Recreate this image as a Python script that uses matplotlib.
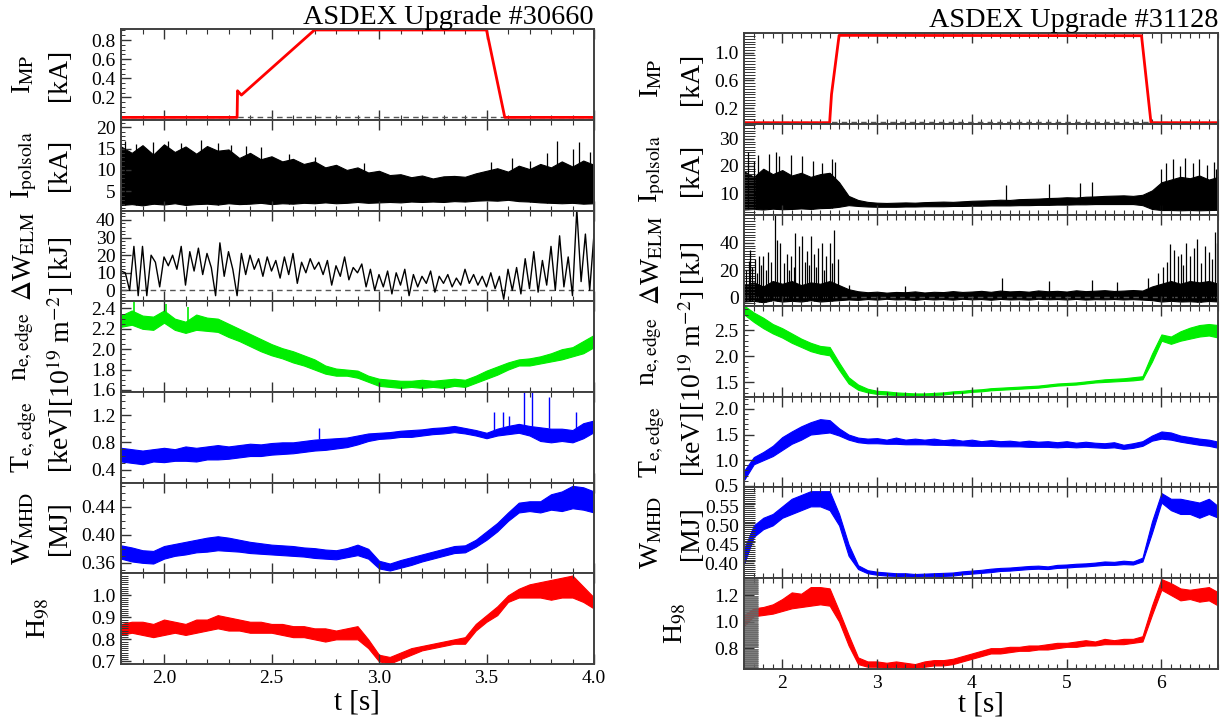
import numpy as np
import matplotlib.pyplot as plt
from matplotlib.ticker import MultipleLocator, FixedLocator, FormatStrFormatter

plt.rcParams['font.family'] = 'Liberation Serif'
plt.rcParams['mathtext.fontset'] = 'stix'

#%% data, shot 30660 (left)
tL = [1.80, 1.85, 1.90, 1.95, 2.00, 2.05, 2.10, 2.15, 2.20, 2.25, 2.30, 2.35, 2.40, 2.45, 2.50,
      2.55, 2.60, 2.65, 2.70, 2.75, 2.80, 2.85, 2.90, 2.95, 3.00, 3.05, 3.10, 3.15, 3.20, 3.25,
      3.30, 3.35, 3.40, 3.45, 3.50, 3.55, 3.60, 3.65, 3.70, 3.75, 3.80, 3.85, 3.90, 3.95, 4.00]

imp_L_t = [1.80, 2.34, 2.342, 2.35, 2.36, 2.70, 3.50, 3.585, 4.00]
imp_L = [-0.008, -0.008, 0.27, 0.25, 0.225, 0.905, 0.905, -0.008, -0.008]

pol_L_lo = [1.8, 2.0, 1.7, 2.1, 1.9, 2.2, 1.8, 2.0, 2.1, 1.9, 2.2, 2.0, 2.1, 2.3, 2.0,
            2.2, 2.1, 2.3, 2.2, 2.4, 2.2, 2.3, 2.5, 2.3, 2.4, 2.5, 2.4, 2.6, 2.5, 2.6,
            2.5, 2.7, 2.6, 2.8, 2.9, 2.8, 3.0, 2.7, 2.6, 2.4, 2.3, 2.2, 2.3, 2.1, 2.2]
pol_L_hi = [15.5, 14.0, 15.8, 13.6, 16.0, 14.2, 15.5, 13.8, 15.6, 14.5, 14.8, 12.8, 14.0, 12.5, 13.2,
            12.0, 12.6, 11.4, 12.0, 10.6, 11.2, 10.0, 10.6, 9.4, 9.8, 8.8, 9.0, 8.3, 8.7, 8.0,
            8.5, 8.6, 8.4, 9.2, 9.8, 10.4, 9.6, 11.0, 10.2, 11.4, 10.6, 12.0, 10.8, 12.2, 11.2]
pol_L_spk_t = [1.82, 1.87, 1.95, 2.02, 2.08, 2.17, 2.25, 2.31, 2.38, 2.45, 2.58, 2.70, 2.93,
               3.52, 3.62, 3.70, 3.78, 3.83, 3.90, 3.93, 3.98]
pol_L_spk = [16.8, 16.0, 16.5, 16.8, 16.2, 17.0, 16.3, 15.8, 15.5, 15.3, 13.8, 13.0, 11.6,
             11.8, 12.8, 12.2, 14.0, 16.8, 15.0, 16.5, 14.2]

dw_L_t = [1.80, 1.82, 1.84, 1.86, 1.88, 1.90, 1.92, 1.94, 1.96, 1.98, 2.00, 2.02, 2.04, 2.06,
          2.08, 2.10, 2.12, 2.14, 2.16, 2.18, 2.20, 2.22, 2.24, 2.26, 2.28, 2.30, 2.32, 2.34,
          2.36, 2.38, 2.40, 2.42, 2.44, 2.46, 2.48, 2.50, 2.52, 2.54, 2.56, 2.58, 2.60, 2.62,
          2.64, 2.66, 2.68, 2.70, 2.72, 2.74, 2.76, 2.78, 2.80, 2.82, 2.84, 2.86, 2.88, 2.90,
          2.92, 2.94, 2.96, 2.98, 3.00, 3.02, 3.04, 3.06, 3.08, 3.10, 3.12, 3.14, 3.16, 3.18,
          3.20, 3.22, 3.24, 3.26, 3.28, 3.30, 3.32, 3.34, 3.36, 3.38, 3.40, 3.42, 3.44, 3.46,
          3.48, 3.50, 3.52, 3.54, 3.56, 3.58, 3.60, 3.62, 3.64, 3.66, 3.68, 3.70, 3.72, 3.74,
          3.76, 3.78, 3.80, 3.82, 3.84, 3.86, 3.88, 3.90, 3.92, 3.94, 3.96, 3.98, 4.00]
dw_L = [11, 10, 0, 25, -3, 25, -3, 20, 16, 2, 19, 14, 20, 12,
        25, 3, 22, 11, 24, 9, 21, 13, -3, 27, 8, 22, 12, -3,
        21, 9, 20, 12, 18, 8, 19, 11, 17, 7, 19, 9, 21, 4,
        16, 10, 18, 12, 16, 9, 17, 3, 14, 8, 19, 6, 13, 10,
        15, 2, 12, 0, 9, 2, 11, -2, 10, 3, 12, -3, 9, 2,
        8, 4, 11, -1, 8, 4, 9, 2, 7, 3, 12, 4, 9, 3,
        8, 2, 10, 1, 8, -5, 12, 0, 13, -2, 18, 1, 22, -1,
        17, 3, 25, 0, 31, 2, 19, -3, 46, 5, 32, 0, 32]

ne_L_lo = [2.22, 2.24, 2.20, 2.19, 2.26, 2.19, 2.16, 2.19, 2.18, 2.17, 2.12, 2.08, 2.03, 1.98, 1.94,
           1.91, 1.87, 1.84, 1.80, 1.76, 1.74, 1.74, 1.72, 1.68, 1.64, 1.63, 1.62, 1.63, 1.62, 1.63,
           1.62, 1.64, 1.63, 1.67, 1.71, 1.75, 1.80, 1.84, 1.84, 1.86, 1.88, 1.90, 1.93, 1.96, 2.02]
ne_L_hi = [2.33, 2.38, 2.33, 2.32, 2.38, 2.30, 2.27, 2.34, 2.31, 2.30, 2.25, 2.20, 2.15, 2.10, 2.05,
           2.01, 1.98, 1.94, 1.90, 1.84, 1.81, 1.80, 1.79, 1.74, 1.71, 1.70, 1.69, 1.69, 1.70, 1.69,
           1.70, 1.71, 1.70, 1.74, 1.79, 1.83, 1.87, 1.90, 1.91, 1.93, 1.96, 2.00, 2.02, 2.08, 2.14]
ne_L_spk_t = [1.86, 2.01, 2.11]
ne_L_spk = [2.46, 2.44, 2.41]

te_L_lo = [0.52, 0.50, 0.48, 0.52, 0.51, 0.53, 0.53, 0.52, 0.55, 0.55, 0.56, 0.58, 0.60, 0.60, 0.62,
           0.63, 0.64, 0.66, 0.68, 0.69, 0.71, 0.73, 0.77, 0.82, 0.85, 0.86, 0.88, 0.88, 0.90, 0.92,
           0.93, 0.95, 0.93, 0.90, 0.86, 0.90, 0.92, 0.94, 0.90, 0.82, 0.80, 0.82, 0.80, 0.86, 0.95]
te_L_hi = [0.72, 0.70, 0.68, 0.70, 0.72, 0.70, 0.74, 0.72, 0.74, 0.76, 0.74, 0.76, 0.78, 0.77, 0.79,
           0.80, 0.80, 0.82, 0.84, 0.85, 0.86, 0.87, 0.90, 0.93, 0.94, 0.95, 0.97, 0.98, 0.99, 1.01,
           1.02, 1.04, 1.01, 0.98, 0.94, 1.00, 1.04, 1.07, 1.04, 1.02, 1.00, 1.00, 0.98, 1.08, 1.12]
te_L_spk_t = [2.72, 3.535, 3.577, 3.604, 3.676, 3.712, 3.793, 3.915]
te_L_spk = [1.01, 1.24, 1.25, 1.18, 1.55, 1.55, 1.47, 1.24]

w_L_lo = [0.366, 0.362, 0.360, 0.359, 0.366, 0.370, 0.372, 0.375, 0.376, 0.378, 0.377, 0.376, 0.374,
          0.373, 0.372, 0.371, 0.370, 0.369, 0.367, 0.366, 0.365, 0.368, 0.371, 0.366, 0.352, 0.349,
          0.353, 0.357, 0.362, 0.366, 0.370, 0.374, 0.375, 0.383, 0.393, 0.405, 0.420, 0.432, 0.434,
          0.432, 0.436, 0.434, 0.438, 0.436, 0.432]
w_L_hi = [0.385, 0.382, 0.378, 0.377, 0.384, 0.387, 0.390, 0.393, 0.396, 0.398, 0.396, 0.393, 0.390,
          0.388, 0.386, 0.385, 0.384, 0.382, 0.381, 0.379, 0.378, 0.381, 0.386, 0.380, 0.363, 0.359,
          0.364, 0.368, 0.372, 0.376, 0.380, 0.384, 0.385, 0.393, 0.405, 0.417, 0.432, 0.446, 0.448,
          0.448, 0.458, 0.462, 0.470, 0.468, 0.462]

h_L_lo = [0.82, 0.83, 0.82, 0.81, 0.82, 0.83, 0.82, 0.83, 0.84, 0.85, 0.84, 0.84, 0.83, 0.83, 0.83,
          0.82, 0.81, 0.81, 0.80, 0.79, 0.80, 0.80, 0.80, 0.76, 0.70, 0.69, 0.71, 0.73, 0.75, 0.76,
          0.77, 0.78, 0.78, 0.84, 0.88, 0.91, 0.97, 0.99, 0.99, 0.99, 0.98, 0.99, 0.99, 0.97, 0.94]
h_L_hi = [0.87, 0.88, 0.88, 0.87, 0.89, 0.88, 0.87, 0.89, 0.89, 0.91, 0.90, 0.89, 0.88, 0.88, 0.87,
          0.87, 0.86, 0.86, 0.85, 0.85, 0.84, 0.85, 0.86, 0.80, 0.73, 0.72, 0.74, 0.76, 0.77, 0.78,
          0.79, 0.80, 0.81, 0.87, 0.91, 0.95, 1.00, 1.03, 1.05, 1.06, 1.07, 1.08, 1.09, 1.04, 0.99]

#%% data, shot 31128 (right)
tR = [1.6, 1.7, 1.8, 1.9, 2.0, 2.1, 2.2, 2.3, 2.4, 2.5, 2.6, 2.7, 2.8, 2.9, 3.0, 3.1, 3.2,
      3.3, 3.4, 3.5, 3.6, 3.7, 3.8, 3.9, 4.0, 4.1, 4.2, 4.3, 4.4, 4.5, 4.6, 4.7, 4.8, 4.9,
      5.0, 5.1, 5.2, 5.3, 5.4, 5.5, 5.6, 5.7, 5.8, 5.9, 6.0, 6.1, 6.2, 6.3, 6.4, 6.5, 6.6]

imp_R_t = [1.60, 2.50, 2.52, 2.60, 2.80, 5.79, 5.89, 6.60]
imp_R = [-0.01, -0.01, 0.40, 1.25, 1.25, 1.245, -0.01, -0.01]

pol_R_lo = [4.0, 4.2, 4.0, 4.3, 4.1, 4.2, 4.4, 4.2, 4.5, 4.6, 5.0, 5.6, 5.3, 5.1, 5.0, 5.0, 5.0,
            5.1, 5.1, 5.2, 5.2, 5.2, 5.3, 5.3, 5.4, 5.4, 5.5, 5.5, 5.5, 5.6, 5.6, 5.7, 5.7, 5.8,
            5.8, 5.9, 5.9, 6.0, 6.0, 6.0, 6.0, 6.0, 5.6, 4.2, 3.8, 3.8, 3.7, 3.8, 3.7, 3.8, 3.9]
pol_R_hi = [18.0, 16.0, 19.0, 17.0, 18.5, 16.5, 17.5, 16.0, 17.0, 17.5, 14.0, 9.0, 7.5, 6.8, 6.5,
            6.4, 6.5, 6.6, 6.5, 6.7, 6.8, 6.9, 6.8, 7.0, 7.2, 7.3, 7.4, 7.6, 7.5, 7.8, 7.9, 8.0,
            8.2, 8.3, 8.5, 8.4, 8.7, 8.8, 9.0, 9.1, 9.2, 9.0, 9.4, 11.0, 14.0, 15.0, 16.0, 15.5,
            16.5, 15.0, 16.0]
pol_R_spk_t = [1.64, 1.70, 1.74, 1.86, 1.93, 1.97, 2.09, 2.21, 2.32, 2.42, 2.52, 2.56,
               4.36, 4.81, 5.14, 5.27,
               6.00, 6.05, 6.12, 6.20, 6.25, 6.33, 6.40, 6.48, 6.55, 6.58]
pol_R_spk = [25, 22, 24, 24.5, 25, 23.5, 24, 23.5, 22, 21, 22.5, 21.5,
             13, 13.2, 13.6, 14,
             19, 21, 22.5, 20, 23, 21, 22.5, 20.5, 21.5, 19]

dw_R_lo = [-3.0, -2.5, -3.5, -2.0, -3.0, -2.5, -3.0, -2.0, -3.0, -2.5, -2.0, -1.5, -1.8, -1.2,
           -1.6, -1.0, -1.5, -1.3, -1.8, -1.1, -1.5, -1.2, -1.6, -1.0, -1.4, -1.2, -1.7, -1.1,
           -1.5, -1.3, -1.6, -1.0, -1.4, -1.2, -1.5, -1.1, -1.6, -1.3, -1.4, -1.2, -1.5, -1.3,
           -1.6, -2.0, -3.0, -2.5, -3.0, -2.8, -3.2, -2.6, -3.0]
dw_R_hi = [9, 11, 8, 12, 10, 12, 9, 11, 10, 12, 9, 6.0, 4.5, 3.8, 4.2, 3.5, 4.0, 3.8,
           4.4, 3.6, 4.1, 3.9, 4.6, 4.0, 4.3, 4.8, 4.1, 5.0, 4.4, 4.7, 4.2, 5.1, 4.5, 4.8,
           4.3, 5.2, 4.6, 4.9, 5.3, 4.7, 5.0, 5.4, 5.0, 8.0, 10, 12, 10, 12, 11, 12, 10]
dw_R_spk_t = [1.62, 1.65, 1.66, 1.68, 1.71, 1.73, 1.76, 1.78, 1.80, 1.83, 1.85, 1.88, 1.92, 1.95,
              1.98, 2.02, 2.05, 2.07, 2.09, 2.12, 2.14, 2.18, 2.21, 2.24, 2.26, 2.28, 2.30, 2.34,
              2.36, 2.38, 2.42, 2.44, 2.46, 2.50, 2.53, 2.55, 2.59,
              2.70, 3.30, 4.32, 4.81, 5.27, 5.53,
              5.86, 5.96, 6.02, 6.06, 6.09, 6.13, 6.17, 6.21, 6.23, 6.26, 6.30, 6.34, 6.38, 6.42,
              6.46, 6.50, 6.53, 6.56, 6.59]
dw_R_spk = [20, 27, 35, 22, 28, 18, 30, 24, 30, 20, 33, 26, 61, 42,
            40, 25, 32, 20, 30, 22, 47, 38, 45, 26, 34, 24, 45, 32,
            22, 36, 40, 20, 30, 40, 25, 49, 28,
            9, 8, 14, 12, 13, 11,
            14, 18, 22, 26, 39, 35, 30, 32, 24, 40, 30, 36, 43, 25,
            38, 33, 28, 48, 40]

ne_R_lo = [2.80, 2.66, 2.54, 2.44, 2.36, 2.26, 2.18, 2.10, 2.05, 2.02, 1.74, 1.48, 1.36, 1.31,
           1.28, 1.27, 1.26, 1.25, 1.24, 1.25, 1.26, 1.27, 1.29, 1.30, 1.32, 1.33, 1.35, 1.36,
           1.37, 1.38, 1.39, 1.40, 1.42, 1.44, 1.45, 1.46, 1.48, 1.50, 1.51, 1.52, 1.53, 1.54,
           1.56, 1.90, 2.30, 2.24, 2.30, 2.34, 2.38, 2.40, 2.36]
ne_R_hi = [2.97, 2.84, 2.74, 2.62, 2.54, 2.44, 2.34, 2.26, 2.20, 2.18, 1.88, 1.60, 1.46, 1.38,
           1.34, 1.33, 1.31, 1.30, 1.29, 1.29, 1.30, 1.31, 1.33, 1.34, 1.36, 1.37, 1.39, 1.40,
           1.41, 1.42, 1.43, 1.44, 1.46, 1.48, 1.49, 1.50, 1.52, 1.54, 1.56, 1.57, 1.58, 1.60,
           1.62, 2.05, 2.42, 2.38, 2.48, 2.55, 2.60, 2.62, 2.60]

te_R_lo = [0.62, 0.92, 1.00, 1.08, 1.20, 1.32, 1.40, 1.50, 1.52, 1.54, 1.48, 1.40, 1.35, 1.33,
           1.33, 1.32, 1.32, 1.31, 1.31, 1.31, 1.30, 1.30, 1.29, 1.29, 1.28, 1.28, 1.28, 1.27,
           1.27, 1.27, 1.26, 1.26, 1.26, 1.25, 1.26, 1.25, 1.26, 1.25, 1.24, 1.25, 1.22, 1.24,
           1.28, 1.38, 1.42, 1.40, 1.36, 1.33, 1.30, 1.28, 1.24]
te_R_hi = [0.80, 1.06, 1.16, 1.28, 1.45, 1.56, 1.66, 1.74, 1.80, 1.78, 1.62, 1.50, 1.44, 1.42,
           1.43, 1.40, 1.44, 1.40, 1.42, 1.40, 1.42, 1.39, 1.41, 1.38, 1.40, 1.37, 1.39, 1.37,
           1.38, 1.36, 1.38, 1.36, 1.37, 1.35, 1.37, 1.34, 1.36, 1.34, 1.33, 1.35, 1.30, 1.33,
           1.37, 1.48, 1.56, 1.54, 1.48, 1.45, 1.42, 1.40, 1.36]

w_R_lo = [0.40, 0.47, 0.49, 0.50, 0.52, 0.53, 0.54, 0.55, 0.55, 0.54, 0.50, 0.42, 0.385, 0.374,
          0.370, 0.368, 0.367, 0.366, 0.365, 0.366, 0.366, 0.367, 0.368, 0.371, 0.373, 0.375,
          0.377, 0.380, 0.381, 0.383, 0.385, 0.386, 0.385, 0.388, 0.389, 0.391, 0.392, 0.394,
          0.396, 0.396, 0.398, 0.397, 0.405, 0.48, 0.56, 0.54, 0.53, 0.53, 0.52, 0.53, 0.52]
w_R_hi = [0.44, 0.50, 0.52, 0.53, 0.55, 0.57, 0.58, 0.59, 0.59, 0.59, 0.53, 0.45, 0.395, 0.382,
          0.378, 0.376, 0.374, 0.374, 0.372, 0.373, 0.374, 0.375, 0.376, 0.379, 0.381, 0.383,
          0.386, 0.388, 0.389, 0.391, 0.393, 0.394, 0.392, 0.396, 0.397, 0.399, 0.400, 0.402,
          0.405, 0.404, 0.407, 0.405, 0.415, 0.51, 0.585, 0.57, 0.57, 0.565, 0.56, 0.57, 0.55]

h_R_lo = [0.97, 1.04, 1.05, 1.06, 1.08, 1.10, 1.11, 1.12, 1.13, 1.12, 1.00, 0.82, 0.68, 0.66,
          0.66, 0.65, 0.66, 0.65, 0.65, 0.66, 0.67, 0.67, 0.68, 0.70, 0.72, 0.74, 0.76, 0.76,
          0.77, 0.78, 0.78, 0.79, 0.79, 0.80, 0.81, 0.81, 0.82, 0.82, 0.83, 0.83, 0.83, 0.84,
          0.85, 1.05, 1.24, 1.20, 1.16, 1.17, 1.15, 1.16, 1.12]
h_R_hi = [1.05, 1.10, 1.11, 1.13, 1.17, 1.22, 1.21, 1.26, 1.26, 1.25, 1.08, 0.90, 0.73, 0.70,
          0.70, 0.69, 0.70, 0.69, 0.68, 0.70, 0.71, 0.71, 0.72, 0.74, 0.76, 0.78, 0.80, 0.80,
          0.81, 0.81, 0.82, 0.82, 0.83, 0.84, 0.84, 0.85, 0.86, 0.85, 0.87, 0.86, 0.87, 0.87,
          0.89, 1.12, 1.32, 1.29, 1.25, 1.24, 1.25, 1.26, 1.22]

zero_level = 0.0

#%% labels
labels = [('I$_{\\rm MP}$', '[kA]'),
          ('I$_{\\rm polsola}$', '[kA]'),
          ('$\\Delta$W$_{\\rm ELM}$', '[kJ]'),
          ('n$_{\\rm e,edge}$', '[10$^{19}$ m$^{-2}$]'),
          ('T$_{\\rm e,edge}$', '[keV]'),
          ('W$_{\\rm MHD}$', '[MJ]'),
          ('H$_{98}$', None)]

RED, GREEN, BLUE = '#ff0000', '#00ee00', '#0000ff'
W, H = 1232, 726

fig = plt.figure(figsize=(W / 100, H / 100), dpi=100)


def column(x0, x1, top, bottom):
    h = (bottom - top) / 7
    axes = []
    for i in range(7):
        ax = fig.add_axes([x0 / W, 1 - (top + (i + 1) * h) / H, (x1 - x0) / W, h / H])
        for s in ax.spines.values():
            s.set_color('#404040')
            s.set_linewidth(1.4)
        axes.append(ax)
    return axes


def style(ax, ylim, major, minor, fmt, mlen=3):
    ax.set_ylim(*ylim)
    ax.yaxis.set_major_locator(FixedLocator(major))
    ax.yaxis.set_minor_locator(MultipleLocator(minor))
    ax.yaxis.set_major_formatter(FormatStrFormatter(fmt))
    ax.tick_params(which='both', direction='in', top=True, right=False,
                   color='#333333', labelsize=14, pad=4)
    ax.tick_params(which='major', length=7, width=1)
    ax.tick_params(axis='x', which='minor', length=3.5, width=0.8)
    ax.tick_params(axis='y', which='minor', length=mlen, width=0.7)


def ylabels(axes, xs, x_single):
    for ax, (l1, l2) in zip(axes, labels):
        pos = ax.get_position()
        yc = (pos.y0 + pos.y1) / 2
        if l2 is None:
            fig.text(x_single / W, yc, l1, rotation=90, ha='center', va='center', fontsize=20)
        else:
            fig.text(xs[0] / W, yc, l1, rotation=90, ha='center', va='center', fontsize=20)
            fig.text(xs[1] / W, yc, l2, rotation=90, ha='center', va='center', fontsize=20)


def band(ax, t, lo, hi, c):
    ax.fill_between(t, lo, hi, color=c, lw=0.8)


#%% left column
axL = column(121, 594, 29.3, 664)

ax = axL[0]
ax.axhline(zero_level, color='#555555', ls='--', lw=1, dashes=(4, 3))
ax.plot(imp_L_t, imp_L, color=RED, lw=2)
style(ax, (-0.035, 0.912), [0.2, 0.4, 0.6, 0.8], 0.05, '%.1f')

ax = axL[1]
band(ax, tL, pol_L_lo, pol_L_hi, 'k')
ax.vlines(pol_L_spk_t, np.interp(pol_L_spk_t, tL, pol_L_lo), pol_L_spk, color='k', lw=0.9)
style(ax, (0.47, 21.7), [5, 10, 15, 20], 1, '%d')

ax = axL[2]
ax.axhline(zero_level, color='#555555', ls='--', lw=1, dashes=(4, 3))
ax.plot(dw_L_t, dw_L, color='k', lw=1.0)
style(ax, (-6.2, 45.3), [0, 10, 20, 30, 40], 2, '%d')

ax = axL[3]
band(ax, tL, ne_L_lo, ne_L_hi, GREEN)
ax.vlines(ne_L_spk_t, np.interp(ne_L_spk_t, tL, ne_L_lo), ne_L_spk, color=GREEN, lw=1.2)
style(ax, (1.58, 2.47), [1.6, 1.8, 2.0, 2.2, 2.4], 0.05, '%.1f')

ax = axL[4]
band(ax, tL, te_L_lo, te_L_hi, BLUE)
ax.vlines(te_L_spk_t, np.interp(te_L_spk_t, tL, te_L_hi), te_L_spk, color=BLUE, lw=1)
style(ax, (0.21, 1.537), [0.4, 0.8, 1.2], 0.1, '%.1f')

ax = axL[5]
band(ax, tL, w_L_lo, w_L_hi, BLUE)
style(ax, (0.345, 0.4746), [0.36, 0.40, 0.44], 0.01, '%.2f')

ax = axL[6]
band(ax, tL, h_L_lo, h_L_hi, RED)
style(ax, (0.688, 1.10), [0.7, 0.8, 0.9, 1.0], 0.01, '%.1f', mlen=5)

for i, ax in enumerate(axL):
    ax.set_xlim(1.8, 4.0)
    ax.xaxis.set_major_locator(MultipleLocator(0.5))
    ax.xaxis.set_minor_locator(MultipleLocator(0.1))
    ax.xaxis.set_major_formatter(FormatStrFormatter('%.1f'))
    ax.tick_params(axis='x', labelbottom=(i == 6))

ylabels(axL, (24, 60), 39)
fig.text(594 / W, 1 - 24 / H, 'ASDEX Upgrade #30660', ha='right', va='baseline', fontsize=20.3)
fig.text(357 / W, 1 - 703 / H, 't [s]', ha='center', va='center', fontsize=21)

#%% right column
axR = column(744.3, 1218.3, 33.3, 669)

ax = axR[0]
ax.axhline(zero_level, color='#555555', ls='--', lw=1, dashes=(4, 3))
ax.plot(imp_R_t, imp_R, color=RED, lw=2)
style(ax, (-0.03, 1.28), [0.2, 0.6, 1.0], 0.04, '%.1f', mlen=8)

ax = axR[1]
band(ax, tR, pol_R_lo, pol_R_hi, 'k')
ax.vlines(pol_R_spk_t, np.interp(pol_R_spk_t, tR, pol_R_lo), pol_R_spk, color='k', lw=0.9)
style(ax, (2.0, 35.4), [10, 20, 30], 1, '%d', mlen=8)

ax = axR[2]
ax.axhline(zero_level, color='#555555', ls='--', lw=1, dashes=(4, 3))
band(ax, tR, dw_R_lo, dw_R_hi, 'k')
ax.vlines(dw_R_spk_t, np.interp(dw_R_spk_t, tR, dw_R_lo), dw_R_spk, color='k', lw=0.9)
style(ax, (-6.1, 60.4), [0, 20, 40], 2, '%d', mlen=8)

ax = axR[3]
band(ax, tR, ne_R_lo, ne_R_hi, GREEN)
style(ax, (1.23, 2.97), [1.5, 2.0, 2.5], 0.1, '%.1f')

ax = axR[4]
band(ax, tR, te_R_lo, te_R_hi, BLUE)
style(ax, (0.47, 2.24), [0.5, 1.0, 1.5, 2.0], 0.1, '%.1f')

ax = axR[5]
band(ax, tR, w_R_lo, w_R_hi, BLUE)
style(ax, (0.361, 0.60), [0.40, 0.45, 0.50, 0.55], 0.005, '%.2f', mlen=8)

ax = axR[6]
band(ax, tR, h_R_lo, h_R_hi, RED)
style(ax, (0.643, 1.327), [0.8, 1.0, 1.2], 0.005, '%.1f', mlen=10)
ax.tick_params(axis='y', which='minor', color='#666666', width=0.6)

for i, ax in enumerate(axR):
    ax.set_xlim(1.6, 6.6)
    ax.xaxis.set_major_locator(MultipleLocator(1))
    ax.xaxis.set_minor_locator(MultipleLocator(0.1))
    ax.xaxis.set_major_formatter(FormatStrFormatter('%d'))
    ax.tick_params(axis='x', labelbottom=(i == 6))

ylabels(axR, (652, 691), 676)
fig.text(1218 / W, 1 - 27 / H, 'ASDEX Upgrade #31128', ha='right', va='baseline', fontsize=20.3)
fig.text(981 / W, 1 - 705 / H, 't [s]', ha='center', va='center', fontsize=21)

fig.savefig('out.png', dpi=100)
